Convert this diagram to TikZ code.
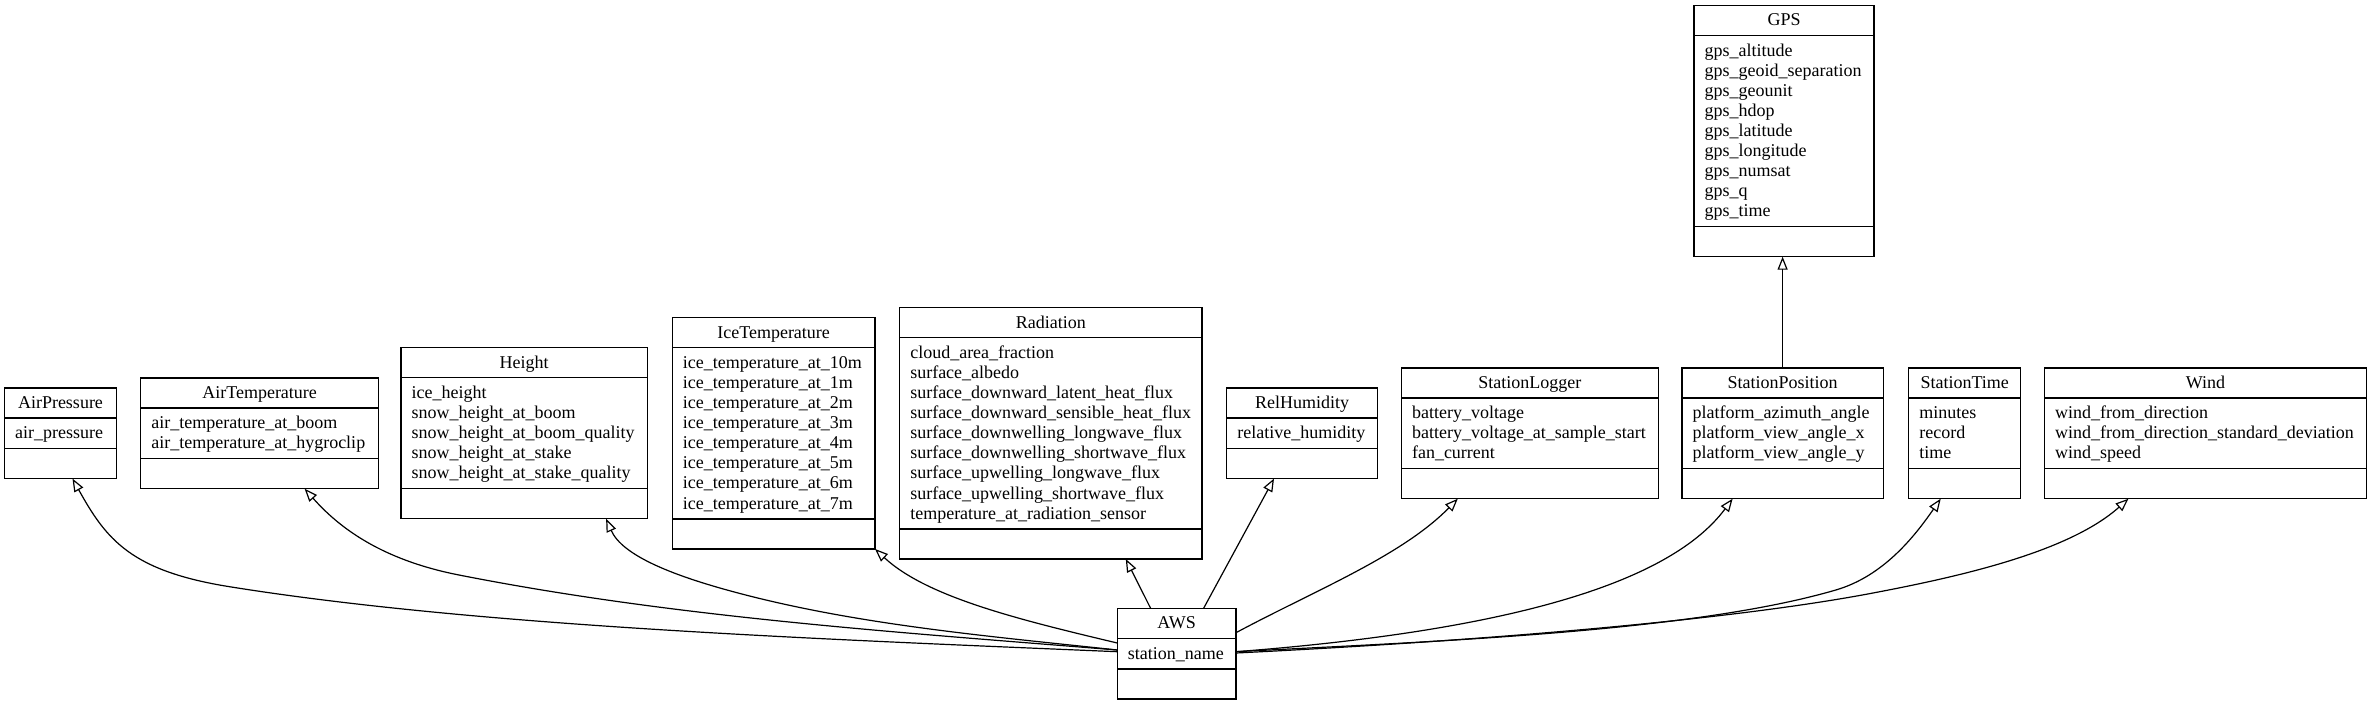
\documentclass[tikz,border=0pt]{standalone}
\usepackage{fontspec}
\setmainfont{Liberation Serif}
\usetikzlibrary{arrows.meta,calc}
\tikzset{
  clsbox/.style={draw, line width=1.2pt, inner sep=0pt, outer sep=0pt},
  clsline/.style={line width=1.2pt},
  clstitle/.style={anchor=base, inner sep=0pt, font=\fontsize{18}{20.1}\selectfont},
  clsattr/.style={anchor=north west, inner sep=0pt, align=left, font=\fontsize{18}{20.1}\selectfont},
  inh/.style={line width=1.2pt, -{Triangle[open, length=13pt, width=10pt]}}
}
% #1 name, #2 cx, #3 cy, #4 width, #5 number of attribute lines, #6 title, #7 attributes
\newcommand{\umlclass}[7]{%
  \pgfmathsetmacro{\clsH}{70.5+20.1*#5}%
  \node[clsbox, minimum width=#4, minimum height=\clsH] (#1) at (#2,#3) {};%
  \node[clstitle] at ($(#1.north)+(0,20.5)$) {#6};%
  \draw[clsline] ($(#1.north west)+(0,30)$) -- ($(#1.north east)+(0,30)$);%
  \draw[clsline] ($(#1.south west)+(0,-30)$) -- ($(#1.south east)+(0,-30)$);%
  \node[clsattr] at ($(#1.north west)+(10.5,35.5)$) {\rule{0pt}{15pt}#7};%
}
\begin{document}
\begin{tikzpicture}[x=1pt, y=-1pt]
\fill[white] (0,0) rectangle (2373,707);
\umlclass{AirPressure}{60.5}{433.3}{112}{1}{AirPressure}{air\_pressure}
\umlclass{AirTemperature}{259.6}{433.3}{238}{2}{AirTemperature}{air\_temperature\_at\_boom\\air\_temperature\_at\_hygroclip}
\umlclass{Height}{524.1}{433.3}{246.4}{5}{Height}{ice\_height\\snow\_height\_at\_boom\\snow\_height\_at\_boom\_quality\\snow\_height\_at\_stake\\snow\_height\_at\_stake\_quality}
\umlclass{IceTemperature}{773.6}{433.3}{202.8}{8}{IceTemperature}{ice\_temperature\_at\_10m\\ice\_temperature\_at\_1m\\ice\_temperature\_at\_2m\\ice\_temperature\_at\_3m\\ice\_temperature\_at\_4m\\ice\_temperature\_at\_5m\\ice\_temperature\_at\_6m\\ice\_temperature\_at\_7m}
\umlclass{Radiation}{1050.8}{433.3}{302.5}{9}{Radiation}{cloud\_area\_fraction\\surface\_albedo\\surface\_downward\_latent\_heat\_flux\\surface\_downward\_sensible\_heat\_flux\\surface\_downwelling\_longwave\_flux\\surface\_downwelling\_shortwave\_flux\\surface\_upwelling\_longwave\_flux\\surface\_upwelling\_shortwave\_flux\\temperature\_at\_radiation\_sensor}
\umlclass{RelHumidity}{1302}{433.3}{150.5}{1}{RelHumidity}{relative\_humidity}
\umlclass{StationLogger}{1529.8}{433.3}{257}{3}{StationLogger}{battery\_voltage\\battery\_voltage\_at\_sample\_start\\fan\_current}
\umlclass{StationPosition}{1782.6}{433.3}{201.4}{3}{StationPosition}{platform\_azimuth\_angle\\platform\_view\_angle\_x\\platform\_view\_angle\_y}
\umlclass{StationTime}{1964.7}{433.3}{112}{3}{StationTime}{minutes\\record\\time}
\umlclass{Wind}{2205.5}{433.3}{322.4}{3}{Wind}{wind\_from\_direction\\wind\_from\_direction\_standard\_deviation\\wind\_speed}
\umlclass{GPS}{1784}{131}{180}{9}{GPS}{gps\_altitude\\gps\_geoid\_separation\\gps\_geounit\\gps\_hdop\\gps\_latitude\\gps\_longitude\\gps\_numsat\\gps\_q\\gps\_time}
\umlclass{AWS}{1176.6}{653.6}{118.7}{1}{AWS}{station\_name}

\draw[inh] ($(AWS.west)+(0,-1.9)$) .. controls (817,639) and (476.3,626.2) .. (229.5,586.7) .. controls (130.8,570.9) and (106.3,539.5) .. ($(AirPressure.south)+(12,0)$);
\draw[inh] ($(AWS.west)+(0,-3.6)$) .. controls (898,632.2) and (674.8,617.5) .. (459,575) .. controls (390.3,561.5) and (344.6,534) .. ($(AirTemperature.south)+(45,0)$);
\draw[inh] ($(AWS.west)+(0,-3.6)$) .. controls (988,636) and (852.3,624.7) .. (727,590) .. controls (674,575.3) and (622.4,555.9) .. ($(Height.south)+(82,0)$);
\draw[inh] ($(AWS.west)+(0,-10.6)$) .. controls (1019.7,619.8) and (926.8,597.2) .. (IceTemperature.south east);
\draw[inh] ($(AWS.north)+(-26,0)$) -- ($(Radiation.south)+(75,0)$);
\draw[inh] ($(AWS.north)+(27,0)$) -- ($(RelHumidity.south)+(-28,0)$);
\draw[inh] ($(AWS.east)+(0,-20.9)$) .. controls (1315,590.4) and (1402,555.8) .. ($(StationLogger.south)+(-72,0)$);
\draw[inh] ($(AWS.east)+(0,-1.9)$) .. controls (1495.2,631.7) and (1667,587) .. ($(StationPosition.south)+(-50,0)$);
\draw[inh] ($(AWS.east)+(0,-1.9)$) .. controls (1435.7,641.3) and (1691.8,632) .. (1835.8,590) .. controls (1883.8,576) and (1914.9,535.9) .. ($(StationTime.south)+(-24,0)$);
\draw[inh] ($(AWS.east)+(0,-0.6)$) .. controls (1445.7,642.7) and (1715.9,622.9) .. (1873,593) .. controls (1961.4,576.2) and (2069,551.8) .. ($(Wind.south)+(-77,0)$);
\draw[inh] (StationPosition.north) -- (StationPosition.north |- GPS.south);
\end{tikzpicture}
\end{document}
